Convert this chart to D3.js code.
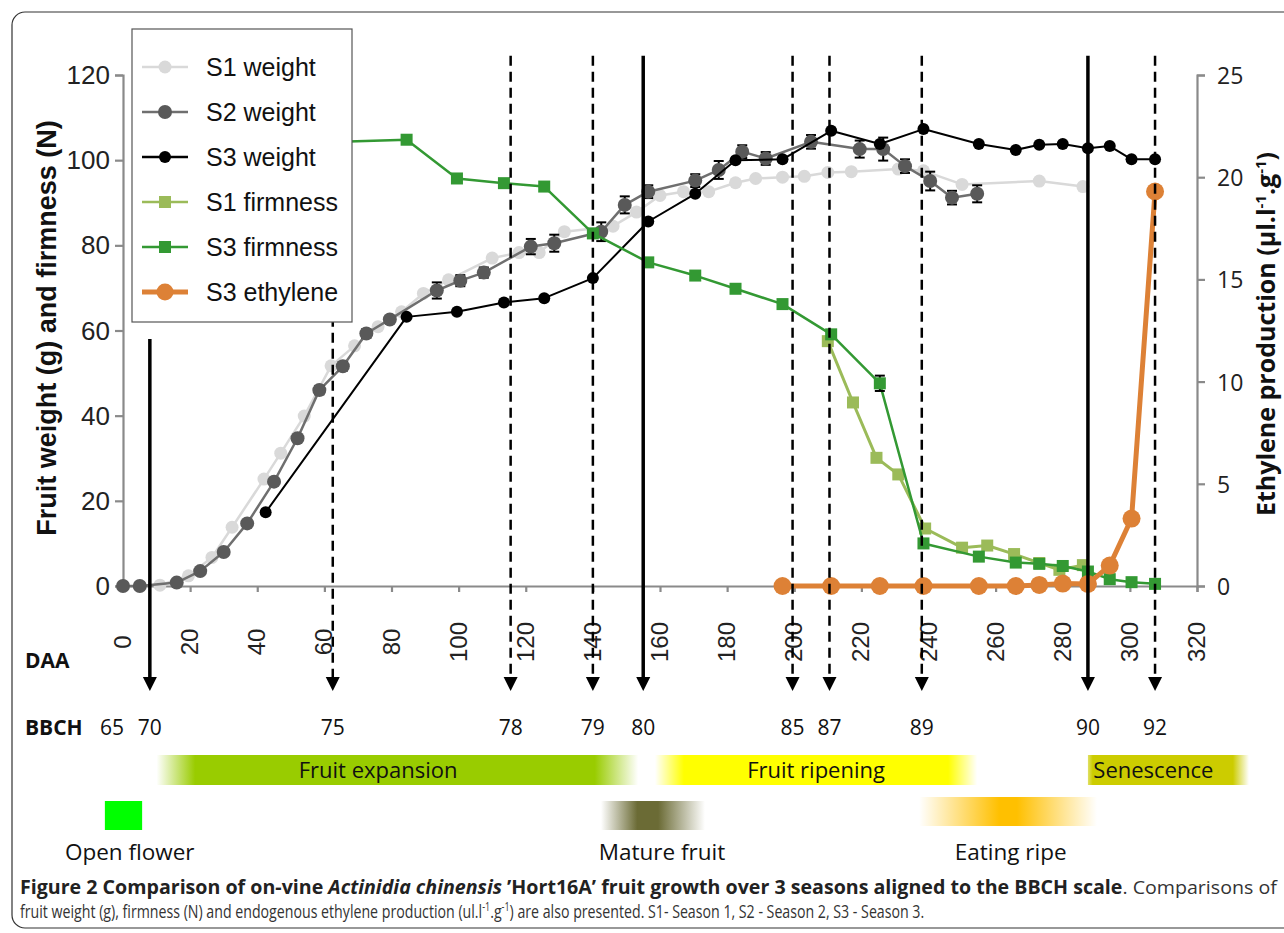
<!DOCTYPE html>
<html lang="en">
<head>
<meta charset="UTF-8" />
<title>Hort16A fruit growth and BBCH</title>
<script src="https://d3js.org/d3.v7.min.js"></script>
<style>
  body { margin: 0; background: #fff; }
</style>
</head>
<body>
<svg></svg>
<script>
// values: [days after anthesis, value]
const s1Weight = [[11,0.2],[19.5,2.4],[26.5,6.7],[32.5,13.8],[42,25.1],[47,31.2],[54,39.9],[62,51.7],[69,56.4],[76,60.9],[83,64.4],[89.5,68.7],[97,71.9],[110,77],[118,78.3],[124,78.3],[131.5,83.2],[146,84.5],[153,87.8],[160,91.7],[167,92.6],[174.5,92.6],[182.5,94.7],[188.5,95.7],[196.5,96],[203,96.2],[210,97.1],[217,97.3],[231,97.9],[238.5,97.5],[250,94.3],[273,95.1],[286,93.8]];
const s2Weight = [[0,0],[5,0],[16,0.8],[23,3.5],[30,8],[37,14.7],[45,24.5],[52,34.7],[58.5,46],[65.5,51.6],[72.5,59.3],[79.5,62.6],[93.5,69.4],[100.5,71.7],[107.5,73.6],[121.5,79.7],[128.5,80.5],[142.5,83.2],[149.5,89.5],[156.5,92.6],[170.5,95.2],[177.5,97.7],[184.5,102],[191.5,100.4],[205,104.3],[219.5,102.6],[226.5,102.6],[233,98.6],[240.5,95.1],[247,91.2],[254.5,92.1]];
const s2WeightErr = [0,0,0,0,0,0,0,0,1,1,1,0.8,1.9,1.3,1.2,1.8,2,2.2,2,1.5,1.5,2.1,1.5,1.5,1.6,2,2.7,1.6,2.2,1.6,2];
const s3Weight = [[42.5,17.3],[84.5,63.2],[99.5,64.4],[113.5,66.6],[125.5,67.6],[140,72.3],[156.5,85.6],[170.5,92.1],[182.5,100],[196.5,100.2],[211,106.9],[225.5,103.8],[238.5,107.3],[255,103.8],[266,102.4],[273,103.6],[280,103.8],[287.5,102.8],[294,103.3],[300.5,100.2],[307.5,100.2]];
const s1Firmness = [[210,57.5],[217.5,43.1],[224.5,30.1],[231,26.2],[239,13.5],[250,9],[257.5,9.5],[265.5,7.5],[273,5.4],[279,3.8],[286,4.9]];
const s3Firmness = [[42.5,103.8],[84.5,104.8],[99.5,95.7],[113.5,94.6],[125.5,93.8],[140,82.8],[156.5,76],[170.5,72.9],[182.5,69.8],[196.5,66.2],[211,59.1],[225.5,47.6],[238.5,10],[255,6.9],[266,5.5],[273,5.2],[280,4.7],[287.5,3.4],[294,1.6],[300.5,0.9],[307.5,0.5]];
const s3FirmnessErr = [0,0,0,0,0,0,0,0,0,0,0,1.8,0,0,0,0,0,0,0,0,0];
const s3Ethylene = [[196.5,0],[211,0],[225.5,0],[238.5,0],[255,0],[266,0],[273,0.05],[280,0.12],[287.5,0.1],[294,1],[300.5,3.3],[307.5,19.3]];

// BBCH stages marked on the DAA axis
const bbchDAA = [8, 62.5, 115.5, 140, 155, 199.5, 210.5, 238, 287.5, 307.5];
const bbchCode = ['70', '75', '78', '79', '80', '85', '87', '89', '90', '92'];
const bbchSolid = [true, false, false, false, true, false, false, false, true, false];
const bbchTop = [58, 67, 124.5, 124.5, 124.5, 124.5, 124.5, 124.5, 124.5, 124.5]; // in g
const bbchExtraLabel = ['65', -3.3];

const xTicks = d3.range(0, 321, 20);
const yTicksL = d3.range(0, 121, 20);
const yTicksR = d3.range(0, 26, 5);

const phaseNames = ['Fruit expansion', 'Fruit ripening', 'Senescence'];
const phaseFrom = [10, 158.5, 287.5];
const phaseTo = [153.5, 254.5, 335.5];
const phaseLabelAt = [76, 206.5, 307];
const phaseColors = ['#99cc00', '#ffff00', '#cccc00'];

const stateNames = ['Open flower', 'Mature fruit', 'Eating ripe'];
const stateFrom = [-5.4, 142.4, 237.2];
const stateTo = [5.7, 173.4, 290.2];
const stateLabelAt = [2, 160.6, 264.5];
const stateColors = ['#00ff00', '#6b6b35', '#ffc000'];

const width = 1284, height = 933;
const svg = d3.select('svg').attr('width', width).attr('height', height);

const x = d3.scaleLinear().domain([0, 320]).range([123, 1197]);
const yL = d3.scaleLinear().domain([0, 120]).range([586, 75]);
const yR = d3.scaleLinear().domain([0, 25]).range([586, 75]);

const axisGrey = '#8a8a8a';
const arial = 'Liberation Sans, Arial, sans-serif';
const sans = 'Open Sans, sans-serif';

// frame
svg.append('rect')
  .attr('x', 12).attr('y', 12).attr('width', 1300).attr('height', 916)
  .attr('rx', 13).attr('fill', 'none').attr('stroke', '#333').attr('stroke-width', 1.2);

// axes
const gx = svg.append('g').attr('transform', 'translate(0,586)')
  .call(d3.axisBottom(x).tickValues(xTicks).tickSize(6).tickFormat(''));
const gl = svg.append('g').attr('transform', 'translate(123,0)')
  .call(d3.axisLeft(yL).tickValues(yTicksL).tickSize(8).tickFormat(''));
const gr = svg.append('g').attr('transform', 'translate(1197,0)')
  .call(d3.axisRight(yR).tickValues(yTicksR).tickSize(8).tickFormat(''));
[gx, gl, gr].forEach(g => {
  g.selectAll('.domain').attr('stroke', axisGrey).attr('stroke-width', 2.2);
  g.selectAll('.tick line').attr('stroke', axisGrey).attr('stroke-width', 2.2);
});

svg.append('g').selectAll('text').data(yTicksL).join('text')
  .attr('x', 110).attr('y', d => yL(d) + 9)
  .attr('text-anchor', 'end').attr('font-family', arial).attr('font-size', 26).attr('fill', '#222')
  .text(d => d);

svg.append('g').selectAll('text').data(yTicksR).join('text')
  .attr('x', 1217).attr('y', d => yR(d) + 9)
  .attr('font-family', sans).attr('font-size', 23).attr('fill', '#222')
  .text(d => d);

svg.append('g').selectAll('text').data(xTicks).join('text')
  .attr('transform', d => `translate(${x(d) + 8},642) rotate(-90)`)
  .attr('text-anchor', 'middle').attr('font-family', arial).attr('font-size', 24).attr('fill', '#222')
  .text(d => d);

svg.append('text')
  .attr('transform', 'translate(56,328) rotate(-90)')
  .attr('text-anchor', 'middle').attr('font-family', arial).attr('font-weight', 'bold')
  .attr('font-size', 27).attr('fill', '#111')
  .text('Fruit weight (g) and firmness (N)');

const rt = svg.append('text')
  .attr('transform', 'translate(1275,334) rotate(-90)')
  .attr('text-anchor', 'middle').attr('font-family', sans).attr('font-weight', 'bold')
  .attr('font-size', 25).attr('fill', '#111');
rt.append('tspan').text('Ethylene production (µl.l');
rt.append('tspan').attr('dy', -9).attr('font-size', 15).text('-1');
rt.append('tspan').attr('dy', 9).text('.g');
rt.append('tspan').attr('dy', -9).attr('font-size', 15).text('-1');
rt.append('tspan').attr('dy', 9).text(')');

// series
const line = (scale) => d3.line().x(d => x(d[0])).y(d => scale(d[1]));

function drawLine(data, scale, color, w) {
  svg.append('path').datum(data).attr('d', line(scale))
    .attr('fill', 'none').attr('stroke', color).attr('stroke-width', w).attr('stroke-linejoin', 'round');
}
function drawErr(data, err, scale) {
  const g = svg.append('g').attr('stroke', '#000').attr('stroke-width', 2);
  data.forEach((d, i) => {
    if (!err[i]) return;
    const cx = x(d[0]), a = scale(d[1] - err[i]), b = scale(d[1] + err[i]);
    g.append('line').attr('x1', cx).attr('x2', cx).attr('y1', a).attr('y2', b);
    g.append('line').attr('x1', cx - 5).attr('x2', cx + 5).attr('y1', a).attr('y2', a);
    g.append('line').attr('x1', cx - 5).attr('x2', cx + 5).attr('y1', b).attr('y2', b);
  });
}
function drawDots(data, scale, color, r) {
  svg.append('g').selectAll('circle').data(data).join('circle')
    .attr('cx', d => x(d[0])).attr('cy', d => scale(d[1])).attr('r', r).attr('fill', color);
}
function drawSquares(data, scale, color, s) {
  svg.append('g').selectAll('rect').data(data).join('rect')
    .attr('x', d => x(d[0]) - s / 2).attr('y', d => scale(d[1]) - s / 2)
    .attr('width', s).attr('height', s).attr('fill', color);
}

drawLine(s1Weight, yL, '#d9d9d9', 2.5);
drawDots(s1Weight, yL, '#d9d9d9', 6.5);
drawLine(s2Weight, yL, '#6f6f6f', 2.5);
drawErr(s2Weight, s2WeightErr, yL);
drawDots(s2Weight, yL, '#595959', 7);
drawLine(s3Weight, yL, '#000', 2);
drawDots(s3Weight, yL, '#000', 6);
drawLine(s1Firmness, yL, '#9bbb59', 3);
drawSquares(s1Firmness, yL, '#9bbb59', 12);
drawLine(s3Firmness, yL, '#339933', 2.5);
drawErr(s3Firmness, s3FirmnessErr, yL);
drawSquares(s3Firmness, yL, '#339933', 12);
drawLine(s3Ethylene, yR, '#dd8136', 5);
drawDots(s3Ethylene, yR, '#dd8136', 9);

// BBCH marker lines and arrows
const arrowY = 677;
const mk = svg.append('g');
bbchDAA.forEach((d, i) => {
  mk.append('line')
    .attr('x1', x(d)).attr('x2', x(d)).attr('y1', yL(bbchTop[i])).attr('y2', arrowY)
    .attr('stroke', '#000').attr('stroke-width', bbchSolid[i] ? 3.5 : 2.5)
    .attr('stroke-dasharray', bbchSolid[i] ? null : '10,6');
  mk.append('path')
    .attr('d', `M${x(d) - 7},${arrowY} L${x(d) + 7},${arrowY} L${x(d)},${arrowY + 14} Z`)
    .attr('fill', '#000');
});

svg.append('text').attr('x', 25).attr('y', 668)
  .attr('font-family', sans).attr('font-weight', 'bold').attr('font-size', 21).attr('fill', '#111').text('DAA');
svg.append('text').attr('x', 25).attr('y', 735)
  .attr('font-family', sans).attr('font-weight', 'bold').attr('font-size', 21).attr('fill', '#111').text('BBCH');
svg.append('g').selectAll('text').data(bbchCode.map((c, i) => [c, bbchDAA[i]]).concat([bbchExtraLabel])).join('text')
  .attr('x', d => x(d[1])).attr('y', 735).attr('text-anchor', 'middle')
  .attr('font-family', sans).attr('font-size', 21).attr('fill', '#111')
  .text(d => d[0]);

// phase bars with soft ends
const defs = svg.append('defs');
function fadeGrad(id, color, stops) {
  const g = defs.append('linearGradient').attr('id', id);
  stops.forEach(s => g.append('stop').attr('offset', s[0]).attr('stop-color', color).attr('stop-opacity', s[1]));
}
const phaseFade = [
  [[0, 0], [0.08, 1], [0.91, 1], [1, 0]],
  [[0, 0], [0.09, 1], [0.91, 1], [1, 0]],
  [[0, 0.6], [0.03, 1], [0.9, 1], [1, 0]]
];
phaseNames.forEach((n, i) => {
  fadeGrad('ph' + i, phaseColors[i], phaseFade[i]);
  svg.append('rect').attr('x', x(phaseFrom[i])).attr('y', 755)
    .attr('width', x(phaseTo[i]) - x(phaseFrom[i])).attr('height', 30)
    .attr('fill', `url(#ph${i})`);
  svg.append('text').attr('x', x(phaseLabelAt[i])).attr('y', 778).attr('text-anchor', 'middle')
    .attr('font-family', sans).attr('font-size', 22).attr('fill', '#111').text(n);
});

const stateFade = [
  [[0, 1], [1, 1]],
  [[0, 0], [0.35, 1], [0.55, 1], [1, 0]],
  [[0, 0], [0.45, 1], [0.55, 1], [1, 0]]
];
stateNames.forEach((n, i) => {
  fadeGrad('st' + i, stateColors[i], stateFade[i]);
  svg.append('rect').attr('x', x(stateFrom[i])).attr('y', i === 2 ? 797 : 801)
    .attr('width', x(stateTo[i]) - x(stateFrom[i])).attr('height', 29)
    .attr('fill', `url(#st${i})`);
  svg.append('text').attr('x', x(stateLabelAt[i])).attr('y', 860).attr('text-anchor', 'middle')
    .attr('font-family', sans).attr('font-size', 22.5).attr('fill', '#111').text(n);
});

// legend
const legendItems = [
  { name: 'S1 weight', color: '#d9d9d9', shape: 'circle', w: 2.5, r: 6.5 },
  { name: 'S2 weight', color: '#595959', line: '#6f6f6f', shape: 'circle', w: 2.5, r: 7 },
  { name: 'S3 weight', color: '#000', shape: 'circle', w: 2.5, r: 6 },
  { name: 'S1 firmness', color: '#9bbb59', shape: 'square', w: 2.5, r: 6 },
  { name: 'S3 firmness', color: '#339933', shape: 'square', w: 2.5, r: 6 },
  { name: 'S3 ethylene', color: '#dd8136', shape: 'circle', w: 5, r: 8.5 }
];
const lg = svg.append('g');
lg.append('rect').attr('x', 132).attr('y', 29).attr('width', 220).attr('height', 293)
  .attr('fill', '#fff').attr('stroke', '#555').attr('stroke-width', 1.2);
legendItems.forEach((it, i) => {
  const cy = 67 + i * 45;
  lg.append('line').attr('x1', 142).attr('x2', 188).attr('y1', cy).attr('y2', cy)
    .attr('stroke', it.line || it.color).attr('stroke-width', it.w);
  if (it.shape === 'circle') {
    lg.append('circle').attr('cx', 165).attr('cy', cy).attr('r', it.r).attr('fill', it.color);
  } else {
    lg.append('rect').attr('x', 165 - it.r).attr('y', cy - it.r).attr('width', it.r * 2).attr('height', it.r * 2).attr('fill', it.color);
  }
  lg.append('text').attr('x', 206).attr('y', cy + 9)
    .attr('font-family', arial).attr('font-size', 25).attr('fill', '#111').text(it.name);
});

// caption, squeezed horizontally to mimic the condensed face
function fitText(t, x0, y0, w) {
  const len = t.node().getComputedTextLength();
  t.attr('transform', `translate(${x0},${y0}) scale(${w / len},1)`);
}
const c1 = svg.append('text')
  .attr('font-family', sans).attr('font-size', 19).attr('fill', '#333');
c1.append('tspan').attr('font-weight', 'bold').attr('fill', '#222').text('Figure 2 Comparison of on-vine ');
c1.append('tspan').attr('font-weight', 'bold').attr('font-style', 'italic').attr('fill', '#222').text('Actinidia chinensis');
c1.append('tspan').attr('font-weight', 'bold').attr('fill', '#222').text(' \u2019Hort16A\u2019 fruit growth over 3 seasons aligned to the BBCH scale');
c1.append('tspan').text('. Comparisons of');
fitText(c1, 20, 894, 1258);

const c2 = svg.append('text')
  .attr('font-family', sans).attr('font-size', 19).attr('fill', '#333');
c2.append('tspan').text('fruit weight (g), firmness (N) and endogenous ethylene production (ul.l');
c2.append('tspan').attr('dy', -7).attr('font-size', 12).text('-1');
c2.append('tspan').attr('dy', 7).text('.g');
c2.append('tspan').attr('dy', -7).attr('font-size', 12).text('-1');
c2.append('tspan').attr('dy', 7).text(') are also presented. S1- Season 1, S2 - Season 2, S3 - Season 3.');
fitText(c2, 20, 918, 905);
</script>
</body>
</html>
